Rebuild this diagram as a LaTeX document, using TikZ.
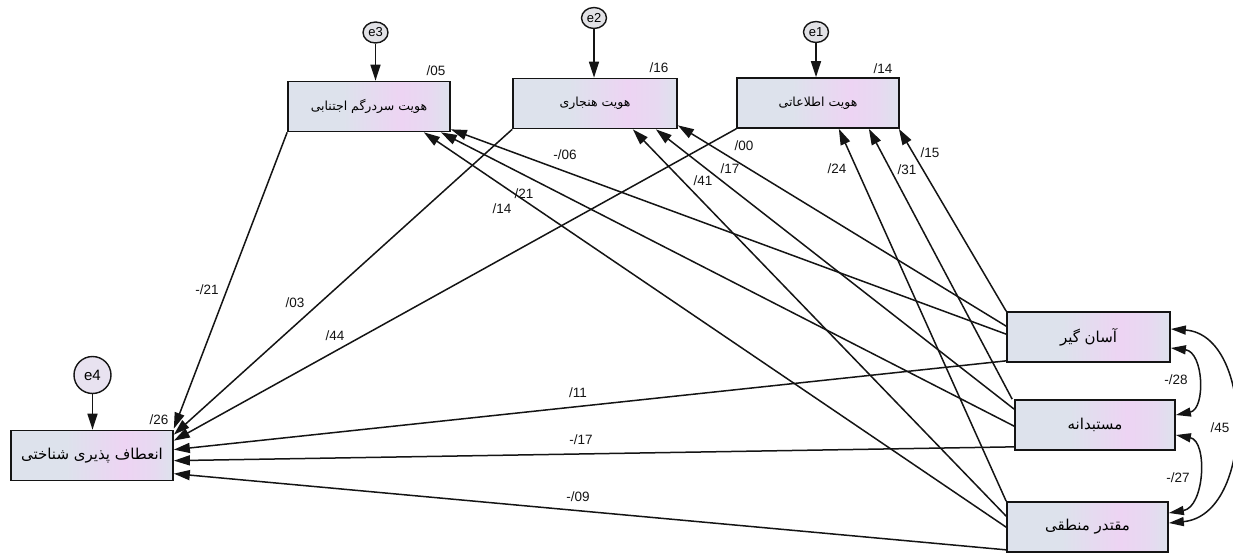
\documentclass[tikz,border=0pt]{standalone}
\usepackage{fontspec}
\setmainfont{Liberation Sans}
\newfontfamily\fa[Script=Arabic]{DejaVu Sans}
\TeXXeTstate=1
\usetikzlibrary{arrows.meta,shapes.geometric}
\definecolor{bxA}{RGB}{221,226,236}
\definecolor{bxB}{RGB}{237,212,243}
\definecolor{bxC}{RGB}{231,217,241}
\definecolor{circA}{RGB}{226,226,230}
\definecolor{circB}{RGB}{232,226,240}
\definecolor{ink}{RGB}{20,20,20}
\pgfdeclarehorizontalshading{boxshade}{100bp}{color(0bp)=(bxA); color(25bp)=(bxA); color(42bp)=(bxA); color(60bp)=(bxB); color(69bp)=(bxC); color(75bp)=(bxA); color(100bp)=(bxA)}
\tikzset{
  box/.style={draw=ink, line width=1.7pt, shading=boxshade, minimum height=50pt, inner sep=0pt},
  errsmall/.style={ellipse, draw=ink, line width=1.4pt, fill=circA, inner sep=0pt, minimum width=25pt, minimum height=21pt, font=\fontsize{13}{13}\selectfont},
  errbig/.style={circle, draw=ink, line width=1.4pt, fill=circB, inner sep=0pt, minimum size=37pt, font=\fontsize{15}{15}\selectfont},
  reg/.style={draw=ink, line width=1.5pt, -{Triangle[length=16pt,width=10pt]}},
  cov/.style={draw=ink, line width=1.5pt, {Triangle[length=15pt,width=9pt]}-{Triangle[length=15pt,width=9pt]}},
  lbl/.style={font=\fontsize{13.5}{14}\selectfont, inner sep=0pt, text=ink},
  fasmall/.style={font=\fa\fontsize{12.5}{14}\selectfont},
  falarge/.style={font=\fa\fontsize{15}{17}\selectfont},
}
\begin{document}
\begin{tikzpicture}[x=1pt,y=-1pt]
\useasboundingbox[fill=white] (0,0) rectangle (1233,556);
% upper boxes
\node[box, fasmall, minimum width=162pt] (B3) at (369,106.5) {\beginR هویت سردرگم اجتنابی\endR};
\node[box, fasmall, minimum width=164pt] (B2) at (595,103.5) {\beginR هویت هنجاری\endR};
\node[box, fasmall, minimum width=162pt] (B1) at (818,103) {\beginR هویت اطلاعاتی\endR};
% outcome box
\node[box, falarge, minimum width=162pt] (B4) at (92,455.5) {\beginR انعطاف پذیری شناختی\endR};
% right boxes
\node[box, falarge, minimum width=163pt] (R1) at (1088.5,337) {\beginR آسان گیر\endR};
\node[box, falarge, minimum width=160pt] (R2) at (1095,425) {\beginR مستبدانه\endR};
\node[box, falarge, minimum width=161pt] (R3) at (1087.5,527) {\beginR مقتدر منطقی\endR};
% error terms
\node[errsmall] (e3) at (375.5,32.5) {e3};
\node[errsmall] (e2) at (594,18) {e2};
\node[errsmall] (e1) at (816,32) {e1};
\node[errbig] (e4) at (92.5,375) {e4};
\draw[reg] (e3) -- (e3 |- B3.north);
\draw[reg] (e2) -- (e2 |- B2.north);
\draw[reg] (e1) -- (e1 |- B1.north);
\draw[reg] (e4) -- (e4 |- B4.north);
% to e1 box
\draw[reg] (R1.north west) -- ([xshift=-1pt]B1.south east);
\draw[reg] ([xshift=-2pt]R2.north west) -- ([xshift=-31pt]B1.south east);
\draw[reg] (R3.north west) -- ([xshift=-61pt]B1.south east);
% to e2 box
\draw[reg] ([yshift=-15pt]R1.north west) -- ([yshift=4pt]B2.south east);
\draw[reg] ([yshift=-10pt]R2.north west) -- ([xshift=-22pt]B2.south east);
\draw[reg] ([yshift=-15pt]R3.north west) -- ([xshift=-45pt]B2.south east);
% to e3 box
\draw[reg] ([yshift=-23pt]R1.north west) -- ([yshift=3pt]B3.south east);
\draw[reg] ([yshift=-27pt]R2.north west) -- ([xshift=-10pt]B3.south east);
\draw[reg] ([yshift=-26pt]R3.north west) -- ([xshift=-27pt]B3.south east);
% to outcome
\draw[reg] (B3.south west) -- ([yshift=1pt]B4.north east);
\draw[reg] (B2.south west) -- ([yshift=-5pt]B4.north east);
\draw[reg] (B1.south west) -- ([yshift=-11pt]B4.north east);
\draw[reg] ([yshift=2pt]R1.south west) -- ([yshift=-20pt]B4.north east);
\draw[reg] ([yshift=4pt]R2.south west) -- ([yshift=-31pt]B4.north east);
\draw[reg] ([yshift=3pt]R3.south west) -- ([yshift=-44pt]B4.north east);
% covariances
\draw[cov] ([yshift=8pt]R1.east) .. controls +(84,6) and +(86,-8) .. ([yshift=4pt]R3.east);
\draw[cov] ([yshift=-11pt]R1.east) .. controls +(33,4) and +(30,-6) .. ([yshift=10pt]R2.east);
\draw[cov] ([yshift=-10pt]R2.east) .. controls +(32,6) and +(36,-6) .. ([yshift=14pt]R3.east);
% labels
\node[lbl] (v3) at (436,71) {/05};
\node[lbl] (v2) at (659,68) {/16};
\node[lbl] (v1) at (883,69) {/14};
\node[lbl] (v4) at (159,420) {/26};
\node[lbl] (c1) at (565,155) {-/06};
\node[lbl] (c2) at (744,146) {/00};
\node[lbl] (c3) at (730,169) {/17};
\node[lbl] (c4) at (703,181) {/41};
\node[lbl] (c5) at (524,194) {/21};
\node[lbl] (c6) at (502,209) {/14};
\node[lbl] (c7) at (837,169) {/24};
\node[lbl] (c8) at (907,170) {/31};
\node[lbl] (c9) at (930,153) {/15};
\node[lbl] (c10) at (207,290) {-/21};
\node[lbl] (c11) at (295,303) {/03};
\node[lbl] (c12) at (335,336) {/44};
\node[lbl] (c13) at (578,393) {/11};
\node[lbl] (c14) at (581,440) {-/17};
\node[lbl] (c15) at (578,497) {-/09};
\node[lbl] (r1) at (1176,380) {-/28};
\node[lbl] (r2) at (1178,478) {-/27};
\node[lbl] (r3) at (1220,428) {/45};
\end{tikzpicture}
\end{document}
